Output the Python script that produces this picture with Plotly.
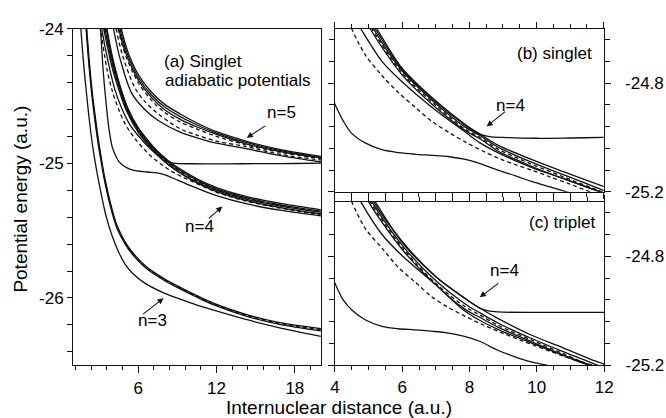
import plotly.graph_objects as go

W, H = 666, 418

# ---------------- Panel (a): singlet adiabatic potentials ----------------
A_N3_OUT_X = [1.5, 1.6, 1.8, 2.0, 2.25, 2.5, 2.75, 3.0, 3.5, 4.0, 4.5, 5.0, 5.6, 6.5, 7.9, 9.25, 10.4, 11.75, 14.25, 16.75, 20.0]
A_N3_OUT_Y = [-23.85, -24.0, -24.25, -24.45, -24.68, -24.87, -25.02, -25.15, -25.38, -25.54, -25.66, -25.75, -25.82, -25.89, -25.96, -26.01, -26.05, -26.09, -26.16, -26.22, -26.285]
A_N3_IN_X = [1.9, 2.0, 2.2, 2.45, 2.7, 3.0, 3.5, 4.0, 4.4, 5.0, 5.5, 6.6, 8.0, 9.25, 10.5, 11.75, 14.25, 16.75, 20.0]
A_N3_IN1_Y = [-23.88, -24.0, -24.25, -24.5, -24.7, -24.9, -25.17, -25.37, -25.49, -25.6, -25.67, -25.78, -25.87, -25.935, -25.995, -26.05, -26.135, -26.195, -26.245]
A_N3_IN2_Y = [-23.82, -23.94, -24.19, -24.45, -24.65, -24.86, -25.14, -25.345, -25.47, -25.585, -25.655, -25.767, -25.858, -25.923, -25.983, -26.038, -26.122, -26.182, -26.228]
A_N3_IN3_Y = [-23.85, -23.97, -24.22, -24.475, -24.675, -24.88, -25.155, -25.357, -25.48, -25.592, -25.662, -25.773, -25.864, -25.929, -25.989, -26.044, -26.128, -26.188, -26.236]

A_N4_U_X = [3.45, 3.55, 4.0, 4.5, 5.2, 6.0, 7.0, 8.0, 8.3, 9.25, 10.5, 12.0, 14.25, 17.0, 20.0]
A_N4_U_Y = [-23.95, -24.0, -24.22, -24.4, -24.6, -24.74, -24.865, -24.955, -24.98, -25.045, -25.115, -25.18, -25.245, -25.3, -25.345]
A_N4_C1_X = [3.35, 3.45, 4.0, 4.5, 5.15, 6.0, 7.0, 8.0, 9.25, 10.5, 12.0, 14.25, 17.0, 20.0]
A_N4_C1_Y = [-23.95, -24.0, -24.25, -24.42, -24.6, -24.755, -24.875, -24.97, -25.055, -25.125, -25.19, -25.255, -25.31, -25.355]
A_N4_C2_X = [3.3, 3.4, 4.0, 4.5, 5.1, 6.0, 7.0, 8.0, 9.25, 10.5, 12.0, 14.25, 17.0, 20.0]
A_N4_C2_Y = [-23.95, -24.0, -24.27, -24.43, -24.6, -24.76, -24.88, -24.975, -25.06, -25.13, -25.195, -25.26, -25.315, -25.36]
A_N4_C3_X = [3.25, 3.35, 4.0, 4.5, 5.05, 6.0, 7.0, 8.0, 9.25, 10.5, 12.0, 14.25, 17.0, 20.0]
A_N4_C3_Y = [-23.95, -24.0, -24.29, -24.45, -24.6, -24.77, -24.89, -24.985, -25.07, -25.14, -25.2, -25.265, -25.32, -25.365]
A_N4_L_X = [3.1, 3.2, 3.7, 4.2, 4.77, 5.4, 6.0, 7.0, 8.0, 8.3, 9.25, 10.5, 12.0, 14.25, 17.0, 20.0]
A_N4_L_Y = [-23.93, -24.0, -24.25, -24.45, -24.6, -24.72, -24.795, -24.9, -24.985, -25.01, -25.075, -25.145, -25.21, -25.275, -25.33, -25.375]
A_N4_D_X = [3.0, 3.1, 3.6, 4.0, 4.5, 4.9, 5.4, 5.9, 6.4, 6.9, 7.4, 7.9, 8.4, 8.9, 9.4, 9.9, 10.4, 11.0, 12.0, 14.25, 17.0, 20.0]
A_N4_D_Y = [-23.93, -24.0, -24.3, -24.46, -24.6, -24.69, -24.77, -24.835, -24.89, -24.94, -24.98, -25.017, -25.05, -25.078, -25.102, -25.124, -25.146, -25.174, -25.215, -25.28, -25.335, -25.38]
A_S_X = [2.95, 3.1, 3.3, 3.5, 3.75, 4.0, 4.25, 4.5, 4.9, 5.4, 5.9, 6.4, 6.9, 7.4, 7.85, 8.3, 8.85, 9.4, 9.85, 10.4, 11.0, 12.0, 14.25, 17.0, 20.0]
A_S_Y = [-23.85, -24.0, -24.3, -24.52, -24.74, -24.878, -24.94, -24.985, -25.02, -25.045, -25.056, -25.062, -25.066, -25.071, -25.08, -25.095, -25.118, -25.14, -25.16, -25.18, -25.205, -25.24, -25.3, -25.35, -25.39]
A_F_X = [3.5, 3.6, 4.0, 4.5, 5.2, 6.0, 7.0, 7.8, 8.3, 8.7, 9.2, 10.0, 12.0, 14.0, 16.0, 18.0, 20.0]
A_F_Y = [-23.95, -24.0, -24.2, -24.39, -24.59, -24.735, -24.86, -24.945, -24.985, -24.998, -25.002, -25.003, -25.004, -25.003, -25.002, -25.001, -24.999]

A_N5_1_X = [4.6, 4.7, 5.2, 6.0, 7.0, 8.0, 9.25, 10.5, 12.0, 14.25, 17.0, 20.0]
A_N5_1_Y = [-23.95, -24.0, -24.17, -24.34, -24.47, -24.56, -24.635, -24.7, -24.765, -24.835, -24.9, -24.948]
A_N5_2_X = [4.5, 4.6, 5.1, 6.0, 7.0, 8.0, 9.25, 10.5, 12.0, 14.25, 17.0, 20.0]
A_N5_2_Y = [-23.95, -24.0, -24.17, -24.36, -24.49, -24.58, -24.655, -24.715, -24.775, -24.845, -24.907, -24.955]
A_N5_3_X = [4.4, 4.5, 5.0, 6.0, 7.0, 8.0, 9.25, 10.5, 12.0, 14.25, 17.0, 20.0]
A_N5_3_Y = [-23.95, -24.0, -24.17, -24.38, -24.51, -24.6, -24.675, -24.73, -24.785, -24.855, -24.915, -24.96]
A_N5_4_X = [4.35, 4.45, 5.0, 6.0, 7.0, 8.0, 9.25, 10.5, 12.0, 14.25, 17.0, 20.0]
A_N5_4_Y = [-23.95, -24.0, -24.19, -24.4, -24.53, -24.62, -24.695, -24.745, -24.8, -24.862, -24.92, -24.965]
A_N5_5_X = [4.2, 4.3, 4.8, 5.75, 6.5, 7.5, 9.25, 10.5, 12.0, 14.25, 17.0, 20.0]
A_N5_5_Y = [-23.95, -24.0, -24.2, -24.44, -24.54, -24.63, -24.745, -24.79, -24.835, -24.875, -24.935, -24.975]
A_N5_6_X = [4.0, 4.1, 4.6, 5.5, 6.5, 7.5, 9.25, 10.5, 12.0, 14.25, 17.0, 20.0]
A_N5_6_Y = [-23.95, -24.0, -24.22, -24.48, -24.6, -24.68, -24.77, -24.81, -24.85, -24.89, -24.945, -24.99]

# ---------------- Panel (b): singlet, n=4 ----------------
B_U_X = [5.0, 5.25, 6.0, 7.0, 7.88, 8.35, 8.85, 9.83, 10.8, 11.97, 12.3]
B_U_Y = [-24.55, -24.6, -24.745, -24.865, -24.952, -24.99, -25.028, -25.08, -25.126, -25.179, -25.195]
B_C1_X = [4.95, 5.15, 6.0, 7.0, 7.88, 8.32, 8.85, 9.83, 10.8, 11.9, 12.2]
B_C1_Y = [-24.55, -24.6, -24.755, -24.875, -24.962, -24.993, -25.035, -25.09, -25.137, -25.19, -25.205]
B_C2_X = [4.9, 5.1, 6.0, 7.0, 7.88, 8.32, 8.85, 9.83, 10.8, 11.8, 12.1]
B_C2_Y = [-24.55, -24.6, -24.762, -24.882, -24.97, -25.0, -25.042, -25.097, -25.145, -25.193, -25.208]
B_C3_X = [4.85, 5.05, 6.0, 7.0, 7.88, 8.32, 8.85, 9.83, 10.8, 11.7, 12.0]
B_C3_Y = [-24.55, -24.6, -24.77, -24.89, -24.975, -25.005, -25.05, -25.105, -25.152, -25.192, -25.205]
B_L_X = [4.6, 4.77, 5.4, 6.0, 7.0, 7.88, 8.32, 8.85, 9.83, 10.8, 11.68, 12.0]
B_L_Y = [-24.565, -24.6, -24.72, -24.795, -24.9, -24.98, -25.02, -25.056, -25.109, -25.151, -25.19, -25.205]
B_D_X = [4.35, 4.5, 4.9, 5.4, 5.9, 6.4, 6.9, 7.4, 7.9, 8.4, 8.9, 9.4, 9.9, 10.4, 11.0, 11.6, 12.0]
B_D_Y = [-24.55, -24.6, -24.695, -24.772, -24.836, -24.89, -24.942, -24.982, -25.018, -25.05, -25.078, -25.101, -25.122, -25.145, -25.172, -25.2, -25.215]
B_S_X = [3.9, 4.0, 4.25, 4.5, 4.9, 5.4, 5.9, 6.4, 6.9, 7.4, 7.85, 8.3, 8.85, 9.4, 9.85, 10.4, 10.9, 11.3]
B_S_Y = [-24.85, -24.878, -24.94, -24.985, -25.02, -25.045, -25.056, -25.062, -25.066, -25.071, -25.08, -25.095, -25.12, -25.142, -25.162, -25.182, -25.2, -25.215]
B_F_X = [5.1, 5.2, 6.0, 7.0, 7.88, 8.3, 8.6, 9.0, 10.0, 11.0, 12.0, 12.2]
B_F_Y = [-24.58, -24.6, -24.75, -24.87, -24.955, -24.988, -24.997, -25.0, -25.003, -25.002, -25.0, -25.0]

# ---------------- Panel (c): triplet, n=4 ----------------
C_U_X = [4.95, 5.15, 6.0, 7.0, 7.87, 8.3, 8.84, 9.81, 10.78, 11.75, 12.2]
C_U_Y = [-24.55, -24.6, -24.745, -24.875, -24.955, -24.99, -25.028, -25.088, -25.136, -25.185, -25.205]
C_C1_X = [4.9, 5.1, 6.0, 7.0, 7.87, 8.3, 8.84, 9.81, 10.78, 11.5, 12.0]
C_C1_Y = [-24.55, -24.6, -24.76, -24.89, -24.975, -25.007, -25.045, -25.1, -25.15, -25.185, -25.21]
C_C2_X = [4.85, 5.05, 6.0, 7.0, 7.87, 8.3, 8.84, 9.81, 10.78, 11.4, 11.8]
C_C2_Y = [-24.55, -24.6, -24.768, -24.9, -24.985, -25.015, -25.053, -25.106, -25.157, -25.19, -25.205]
C_C3_X = [4.8, 5.0, 6.0, 7.0, 7.87, 8.3, 8.84, 9.81, 10.78, 11.3, 11.7]
C_C3_Y = [-24.55, -24.6, -24.775, -24.905, -24.995, -25.024, -25.06, -25.112, -25.163, -25.19, -25.205]
C_L_X = [4.6, 4.77, 5.4, 6.0, 7.0, 7.82, 8.3, 8.84, 9.81, 10.78, 11.45, 11.8]
C_L_Y = [-24.56, -24.6, -24.72, -24.798, -24.905, -24.997, -25.035, -25.068, -25.117, -25.163, -25.193, -25.207]
C_D_X = [4.35, 4.5, 4.91, 5.4, 5.88, 6.37, 6.85, 7.33, 7.82, 8.3, 8.84, 9.81, 10.78, 11.45, 11.8]
C_D_Y = [-24.55, -24.6, -24.699, -24.77, -24.84, -24.893, -24.946, -24.985, -25.017, -25.046, -25.075, -25.122, -25.166, -25.195, -25.21]
C_S_X = [3.9, 4.0, 4.23, 4.52, 4.91, 5.4, 5.88, 6.37, 6.85, 7.33, 7.82, 8.3, 8.84, 9.33, 9.81, 10.28, 10.6]
C_S_Y = [-24.87, -24.899, -24.957, -24.999, -25.034, -25.057, -25.066, -25.07, -25.075, -25.081, -25.093, -25.112, -25.145, -25.168, -25.187, -25.2, -25.21]
C_F_X = [5.1, 5.2, 6.0, 7.0, 7.87, 8.3, 8.6, 9.0, 10.0, 11.0, 12.0, 12.2]
C_F_Y = [-24.58, -24.6, -24.75, -24.875, -24.955, -24.99, -25.001, -25.005, -25.006, -25.006, -25.006, -25.006]

# Tick labels
A_XTICKS = [6, 12, 18]
A_YTICKS = [-24, -25, -26]
A_YTICK_TEXT = ["-24", "-25", "-26"]
BC_XTICKS = [4, 6, 8, 10, 12]
BC_YTICKS = [-25.2, -24.8]
BC_YTICK_TEXT = ["-25.2", "-24.8"]

INK = "#111111"
FONT = "Arial, Liberation Sans, sans-serif"

fig = go.Figure()

def curve(x, y, xa, ya, dashed=False):
    fig.add_trace(go.Scatter(
        x=x, y=y, xaxis=xa, yaxis=ya, mode="lines", hoverinfo="skip",
        line=dict(color=INK, width=1.3, shape="spline", smoothing=0.9,
                  dash="4px,3px" if dashed else "solid"),
        showlegend=False))

# panel a
curve(A_N3_OUT_X, A_N3_OUT_Y, "x", "y")
curve(A_N3_IN_X, A_N3_IN1_Y, "x", "y")
curve(A_N3_IN_X, A_N3_IN2_Y, "x", "y")
curve(A_N3_IN_X, A_N3_IN3_Y, "x", "y", dashed=True)
curve(A_N4_U_X, A_N4_U_Y, "x", "y")
curve(A_N4_C1_X, A_N4_C1_Y, "x", "y")
curve(A_N4_C2_X, A_N4_C2_Y, "x", "y", dashed=True)
curve(A_N4_C3_X, A_N4_C3_Y, "x", "y")
curve(A_N4_L_X, A_N4_L_Y, "x", "y")
curve(A_N4_D_X, A_N4_D_Y, "x", "y", dashed=True)
curve(A_S_X, A_S_Y, "x", "y")
curve(A_F_X, A_F_Y, "x", "y")
curve(A_N5_1_X, A_N5_1_Y, "x", "y")
curve(A_N5_2_X, A_N5_2_Y, "x", "y")
curve(A_N5_3_X, A_N5_3_Y, "x", "y")
curve(A_N5_4_X, A_N5_4_Y, "x", "y", dashed=True)
curve(A_N5_5_X, A_N5_5_Y, "x", "y", dashed=True)
curve(A_N5_6_X, A_N5_6_Y, "x", "y")

# panel b
curve(B_U_X, B_U_Y, "x2", "y2")
curve(B_C1_X, B_C1_Y, "x2", "y2")
curve(B_C2_X, B_C2_Y, "x2", "y2", dashed=True)
curve(B_C3_X, B_C3_Y, "x2", "y2")
curve(B_L_X, B_L_Y, "x2", "y2")
curve(B_D_X, B_D_Y, "x2", "y2", dashed=True)
curve(B_S_X, B_S_Y, "x2", "y2")
curve(B_F_X, B_F_Y, "x2", "y2")

# panel c
curve(C_U_X, C_U_Y, "x3", "y3")
curve(C_C1_X, C_C1_Y, "x3", "y3")
curve(C_C2_X, C_C2_Y, "x3", "y3", dashed=True)
curve(C_C3_X, C_C3_Y, "x3", "y3")
curve(C_L_X, C_L_Y, "x3", "y3")
curve(C_D_X, C_D_Y, "x3", "y3", dashed=True)
curve(C_S_X, C_S_Y, "x3", "y3")
curve(C_F_X, C_F_Y, "x3", "y3")

def px(v):
    return v / W

def py(v):
    return 1 - v / H

tickfont = dict(family=FONT, size=17, color="black")
common = dict(showline=True, linecolor=INK, linewidth=1, showgrid=False, zeroline=False,
              ticks="outside", tickcolor=INK, tickwidth=1, tickfont=tickfont)

fig.update_layout(
    width=W, height=H, margin=dict(l=0, r=0, t=0, b=0),
    paper_bgcolor="white", plot_bgcolor="white", showlegend=False,
    xaxis=dict(domain=[px(69.5), px(322.7)], anchor="y", range=[1, 20],
               tickmode="array", tickvals=A_XTICKS, ticklen=7, mirror=True, ticklabelstandoff=0,
               minor=dict(tickmode="linear", tick0=0, dtick=1.2, ticklen=4, ticks="outside", tickcolor=INK),
               **common),
    yaxis=dict(domain=[py(373.2), py(20.7)], anchor="x", range=[-26.5, -24],
               tickmode="array", tickvals=A_YTICKS, ticktext=A_YTICK_TEXT, ticklen=5, mirror=True,
               minor=dict(tickmode="linear", tick0=-24, dtick=0.2, ticklen=5, ticks="outside", tickcolor=INK),
               **common),
    xaxis2=dict(domain=[px(337), px(611.5)], anchor="y2", range=[4, 12],
                tickmode="array", tickvals=BC_XTICKS, showticklabels=False, ticklen=6, mirror="ticks",
                minor=dict(tickmode="linear", tick0=4, dtick=0.5, ticklen=4, ticks="outside", tickcolor=INK),
                **common),
    yaxis2=dict(domain=[py(191.5), py(20.7)], anchor="x2", range=[-25.2, -24.6], side="right",
                tickmode="array", tickvals=BC_YTICKS, ticktext=BC_YTICK_TEXT, ticklen=6, mirror="ticks",
                ticklabelstandoff=11,
                minor=dict(tickmode="linear", tick0=-25.2, dtick=0.08, ticklen=5, ticks="outside", tickcolor=INK),
                **common),
    xaxis3=dict(domain=[px(337), px(612)], anchor="y3", range=[4, 12],
                tickmode="array", tickvals=BC_XTICKS, ticklen=6, mirror="ticks", ticklabelstandoff=0,
                minor=dict(tickmode="linear", tick0=4, dtick=0.5, ticklen=4, ticks="outside", tickcolor=INK),
                **common),
    yaxis3=dict(domain=[py(373.2), py(202)], anchor="x3", range=[-25.2, -24.6], side="right",
                tickmode="array", tickvals=BC_YTICKS, ticktext=BC_YTICK_TEXT, ticklen=6, mirror="ticks",
                ticklabelstandoff=11,
                minor=dict(tickmode="linear", tick0=-25.2, dtick=0.08, ticklen=5, ticks="outside", tickcolor=INK),
                **common),
)

def text(x, y, s, anchor="center", size=17, angle=0):
    fig.add_annotation(x=px(x), y=py(y), xref="paper", yref="paper", text=s, showarrow=False,
                       xanchor=anchor, yanchor="middle", textangle=angle,
                       font=dict(family=FONT, size=size, color="black"))

def arrow(tipx, tipy, tailx, taily):
    fig.add_annotation(x=px(tipx), y=py(tipy), xref="paper", yref="paper", text="",
                       showarrow=True, ax=tailx - tipx, ay=taily - tipy, axref="pixel", ayref="pixel",
                       arrowhead=2, arrowsize=1.1, arrowwidth=1.1, arrowcolor=INK)

text(160, 55, "(a) Singlet", anchor="left")
text(161, 75, "adiabatic potentials", anchor="left")
text(282, 108, "n=5")
arrow(247, 135, 267, 122)
text(199, 228, "n=4")
arrow(222, 207, 207, 220)
text(151, 326, "n=3")
arrow(162, 303, 140, 320)
text(561, 47, "(b) singlet")
text(516, 101, "n=4")
arrow(492, 123, 512, 107)
text(569, 224, "(c) triplet")
text(510, 274, "n=4")
arrow(485, 302, 505, 287)

text(341, 417, "Internuclear distance (a.u.)", size=19)
text(16, 199, "Potential energy (a.u.)", size=19, angle=-90)

fig.write_html("out.html")
